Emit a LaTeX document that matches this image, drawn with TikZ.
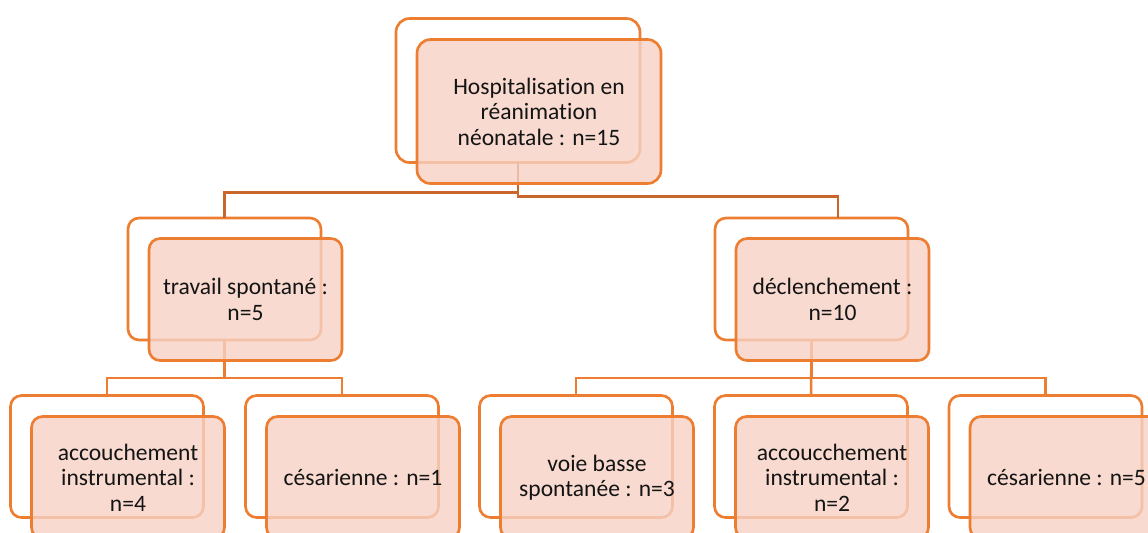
\documentclass[tikz,border=0pt]{standalone}
\usepackage{fontspec}
\setmainfont[Ligatures=NoCommon]{Carlito}
\usetikzlibrary{calc}

\definecolor{orangeoff}{HTML}{ED7D31}
\definecolor{orangefonce}{HTML}{C8662C}
\definecolor{rosefond}{RGB}{246,209,196}
\definecolor{texte}{HTML}{141414}

\tikzset{
	petit/.style={minimum width=3.86cm, minimum height=2.44cm, rounded corners=0.22cm},
	grand/.style={minimum width=4.88cm, minimum height=2.88cm, rounded corners=0.27cm},
	fond/.style={draw=orangeoff, line width=1.5pt, inner sep=0pt, outer sep=0pt, petit},
	etiquette/.style={fond, fill=rosefond, fill opacity=0.8, text opacity=1, text=texte,
		align=center, font=\fontsize{13.4}{14.5}\selectfont},
	lien/.style={draw=orangeoff, line width=1.4pt},
	lienhaut/.style={lien, draw=orangefonce},
}

\begin{document}
\begin{tikzpicture}[x=0.02cm, y=-0.02cm]
			%%%%% START %%%%%
			
			\clip (0, 0) rectangle (1148, 532);
			
			% cadres de fond
			\node[fond, grand] (hospB) at (518, 90.5) {};
			\node[fond] (travB) at (224.5, 279) {};
			\node[fond] (declB) at (811.5, 279) {};
			\node[fond] (instB) at (107, 456.5) {};
			\node[fond] (cesB) at (342, 456.5) {};
			\node[fond] (voieB) at (576, 456.5) {};
			\node[fond] (inst2B) at (811, 456.5) {};
			\node[fond] (ces2B) at (1045.5, 456.5) {};
			
			% liaisons
			\coordinate (declIn) at ($(declB.north)+(26.5, 0)$);
			\draw[lienhaut] (hospB.south) -- ++(0, 30) -| (travB.north);
			\draw[lienhaut] (hospB.south) -- ++(0, 34) -| (declIn);
			\draw[lien] (travB.south) -- ++(0, 38) -| (instB.north);
			\draw[lien] (travB.south) -- ++(0, 38) -| (cesB.north);
			\draw[lien] (declB.south) -- ++(0, 38) -| (voieB.north);
			\draw[lien] (declB.south) -- (inst2B.north);
			\draw[lien] (declB.south) -- ++(0, 38) -| (ces2B.north);
			
			% cadres de texte
			\node[etiquette, grand] (hosp) at (539, 111.5) {Hospitalisation en\\réanimation\\néonatale : n=15};
			\node[etiquette] (trav) at (245.5, 299.5) {travail spontané :\\n=5};
			\node[etiquette] (decl) at (832.5, 299.5) {déclenchement :\\n=10};
			\node[etiquette] (inst) at (128, 477.5) {accouchement\\instrumental :\\n=4};
			\node[etiquette] (ces) at (363, 477.5) {césarienne : n=1};
			\node[etiquette] (voie) at (597, 477.5) {voie basse\\spontanée : n=3};
			\node[etiquette] (inst2) at (832, 477.5) {accoucchement\\instrumental :\\n=2};
			\node[etiquette] (ces2) at (1066.5, 477.5) {césarienne : n=5};
			
			%%%%% END %%%%%
\end{tikzpicture}
\end{document}
